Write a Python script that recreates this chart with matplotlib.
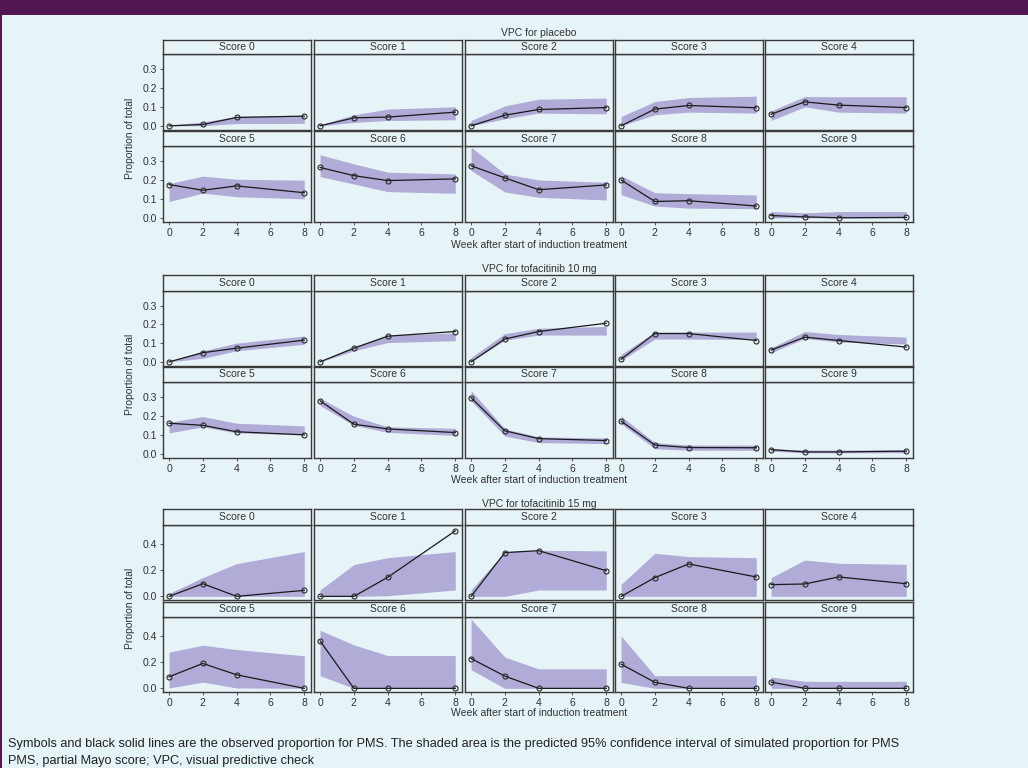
import matplotlib

matplotlib.use("Agg")
import matplotlib.pyplot as plt
from matplotlib.patches import Rectangle

plt.rcParams["font.family"] = ["Liberation Sans", "DejaVu Sans"]

# ---- data ----
weeks = [0, 2, 4, 8]
scores = [f"Score {i}" for i in range(10)]
group_titles = ["VPC for placebo", "VPC for tofacitinib 10 mg", "VPC for tofacitinib 15 mg"]

placebo_obs = [
    [0.0, 0.007, 0.044, 0.051],
    [0.0, 0.042, 0.046, 0.072],
    [0.0, 0.056, 0.086, 0.096],
    [0.0, 0.088, 0.107, 0.095],
    [0.061, 0.126, 0.109, 0.096],
    [0.175, 0.145, 0.168, 0.132],
    [0.265, 0.222, 0.196, 0.205],
    [0.274, 0.210, 0.148, 0.173],
    [0.199, 0.086, 0.090, 0.062],
    [0.012, 0.005, 0.0, 0.002],
]
placebo_lo = [
    [0.0, 0.0, 0.012, 0.013],
    [0.0, 0.018, 0.028, 0.032],
    [0.0, 0.037, 0.067, 0.063],
    [0.0, 0.058, 0.072, 0.067],
    [0.028, 0.100, 0.072, 0.067],
    [0.086, 0.130, 0.111, 0.100],
    [0.217, 0.178, 0.138, 0.129],
    [0.249, 0.136, 0.108, 0.094],
    [0.122, 0.062, 0.051, 0.048],
    [0.0, 0.0, 0.0, 0.0],
]
placebo_hi = [
    [0.003, 0.020, 0.050, 0.055],
    [0.005, 0.058, 0.088, 0.100],
    [0.028, 0.105, 0.140, 0.146],
    [0.049, 0.128, 0.149, 0.156],
    [0.079, 0.154, 0.153, 0.153],
    [0.180, 0.219, 0.203, 0.198],
    [0.332, 0.284, 0.240, 0.231],
    [0.372, 0.231, 0.199, 0.187],
    [0.222, 0.132, 0.127, 0.120],
    [0.033, 0.026, 0.033, 0.033],
]

t10_obs = [
    [0.0, 0.049, 0.073, 0.116],
    [0.0, 0.073, 0.137, 0.162],
    [0.0, 0.122, 0.162, 0.206],
    [0.014, 0.151, 0.151, 0.114],
    [0.063, 0.132, 0.114, 0.079],
    [0.161, 0.150, 0.116, 0.100],
    [0.279, 0.156, 0.131, 0.112],
    [0.295, 0.121, 0.080, 0.070],
    [0.172, 0.046, 0.033, 0.032],
    [0.022, 0.010, 0.010, 0.014],
]
t10_lo = [
    [0.0, 0.019, 0.059, 0.094],
    [0.0, 0.059, 0.103, 0.113],
    [0.0, 0.116, 0.143, 0.143],
    [0.008, 0.122, 0.122, 0.119],
    [0.048, 0.125, 0.106, 0.095],
    [0.110, 0.142, 0.110, 0.100],
    [0.254, 0.150, 0.113, 0.097],
    [0.278, 0.094, 0.059, 0.054],
    [0.158, 0.027, 0.019, 0.019],
    [0.014, 0.005, 0.005, 0.006],
]
t10_hi = [
    [0.003, 0.059, 0.100, 0.138],
    [0.003, 0.081, 0.143, 0.154],
    [0.024, 0.151, 0.179, 0.189],
    [0.040, 0.159, 0.159, 0.159],
    [0.075, 0.162, 0.146, 0.132],
    [0.166, 0.196, 0.161, 0.147],
    [0.292, 0.198, 0.142, 0.134],
    [0.333, 0.131, 0.089, 0.083],
    [0.198, 0.059, 0.046, 0.046],
    [0.027, 0.020, 0.020, 0.022],
]

t15_obs = [
    [0.0, 0.097, 0.0, 0.046],
    [0.0, 0.0, 0.146, 0.503],
    [0.0, 0.336, 0.351, 0.197],
    [0.0, 0.144, 0.249, 0.149],
    [0.090, 0.095, 0.149, 0.097],
    [0.089, 0.191, 0.104, 0.0],
    [0.364, 0.0, 0.0, 0.0],
    [0.229, 0.094, 0.0, 0.0],
    [0.186, 0.046, 0.0, 0.0],
    [0.048, 0.0, 0.0, 0.0],
]
t15_lo = [
    [0.0, 0.0, 0.0, 0.0],
    [0.0, 0.0, 0.005, 0.049],
    [0.0, 0.0, 0.049, 0.049],
    [0.0, 0.0, 0.0, 0.0],
    [0.0, 0.0, 0.0, 0.0],
    [0.003, 0.048, 0.003, 0.0],
    [0.097, 0.0, 0.0, 0.0],
    [0.143, 0.0, 0.0, 0.0],
    [0.046, 0.0, 0.0, 0.0],
    [0.0, 0.0, 0.0, 0.0],
]
t15_hi = [
    [0.023, 0.144, 0.251, 0.344],
    [0.049, 0.244, 0.297, 0.344],
    [0.049, 0.344, 0.354, 0.349],
    [0.092, 0.331, 0.305, 0.297],
    [0.144, 0.279, 0.254, 0.246],
    [0.278, 0.331, 0.298, 0.250],
    [0.446, 0.334, 0.252, 0.252],
    [0.532, 0.240, 0.150, 0.150],
    [0.403, 0.097, 0.097, 0.097],
    [0.087, 0.054, 0.054, 0.054],
]

groups = [
    (placebo_obs, placebo_lo, placebo_hi),
    (t10_obs, t10_lo, t10_hi),
    (t15_obs, t15_lo, t15_hi),
]
group_yticks = [[0.0, 0.1, 0.2, 0.3], [0.0, 0.1, 0.2, 0.3], [0.0, 0.2, 0.4]]
group_ylim = [(-0.022, 0.378), (-0.022, 0.378), (-0.028, 0.548)]

caption = [
    "Symbols and black solid lines are the observed proportion for PMS. The shaded area is the predicted 95% confidence interval of simulated proportion for PMS",
    "PMS, partial Mayo score; VPC, visual predictive check",
]

# ---- layout (pixels) ----
W, H = 1028, 768
BG = "#e6f3f7"
PURPLE = "#521752"
BAND = "#b0abd7"
FRAME = "#3a3a3a"
TXT = "#333333"

col_left = [163, 314, 465, 615, 765]
col_w = 148
# (strip top, panel top, panel bottom) for each row of each group
rows_px = [
    [(40, 54, 130), (131, 146, 222)],
    [(275, 291, 366), (367, 382, 458)],
    [(509, 525, 600), (602, 617, 692)],
]
title_y = [33, 269, 504]
xlabel_y = [245, 480, 713]


def fx(px):
    return px / W


def fy(py):
    return 1 - py / H


fig = plt.figure(figsize=(W / 100, H / 100), dpi=100, facecolor=BG)

# header bar and left border
fig.patches.append(Rectangle((0, fy(15)), 1, 15 / H, transform=fig.transFigure,
                             facecolor=PURPLE, edgecolor="none", zorder=0))
fig.patches.append(Rectangle((0, 0), 2 / W, 1, transform=fig.transFigure,
                             facecolor=PURPLE, edgecolor="none", zorder=0))

for g, (obs, lo, hi) in enumerate(groups):
    for r, (s_top, p_top, p_bot) in enumerate(rows_px[g]):
        for c in range(5):
            k = r * 5 + c
            left = fx(col_left[c])
            ax = fig.add_axes([left, fy(p_bot), col_w / W, (p_bot - p_top) / H])
            ax.set_facecolor(BG)
            ax.fill_between(weeks, lo[k], hi[k], color=BAND, linewidth=0, zorder=1)
            ax.plot(weeks, obs[k], color="#1a1a1a", linewidth=0.9, zorder=2,
                    marker="o", markersize=3.6, markerfacecolor="none",
                    markeredgecolor="#2a2a2a", markeredgewidth=0.8)
            ax.set_xlim(-0.36, 8.4)
            ax.set_ylim(*group_ylim[g])
            for sp in ax.spines.values():
                sp.set_color(FRAME)
                sp.set_linewidth(1.0)
            ax.tick_params(colors="#555555", labelcolor=TXT, labelsize=7.5,
                           length=2.5, width=0.7, pad=1.5)
            ax.set_xticks([0, 2, 4, 6, 8])
            ax.set_yticks(group_yticks[g])
            ax.yaxis.set_major_formatter(plt.FormatStrFormatter("%.1f"))
            if c != 0:
                ax.tick_params(axis="y", left=False, labelleft=False)
            if r != 1:
                ax.tick_params(axis="x", bottom=False, labelbottom=False)

            # strip above the panel
            sax = fig.add_axes([left, fy(p_top), col_w / W, (p_top - s_top) / H])
            sax.set_facecolor(BG)
            sax.set_xticks([])
            sax.set_yticks([])
            for sp in sax.spines.values():
                sp.set_color(FRAME)
                sp.set_linewidth(1.0)
            sax.text(0.5, 0.5, scores[k], ha="center", va="center",
                     fontsize=7.5, color=TXT, transform=sax.transAxes)

    mid_x = fx(col_left[2] + col_w / 2)
    fig.text(mid_x, fy(title_y[g]), group_titles[g], ha="center", va="center",
             fontsize=7.5, color=TXT)
    fig.text(mid_x, fy(xlabel_y[g]), "Week after start of induction treatment",
             ha="center", va="center", fontsize=7.5, color=TXT)
    ymid = (rows_px[g][0][1] + rows_px[g][1][2]) / 2
    fig.text(fx(130), fy(ymid), "Proportion of total", rotation=90,
             ha="center", va="center", fontsize=7.5, color=TXT)

fig.text(fx(8), fy(744), caption[0], ha="left", va="center", fontsize=9.2, color="#222222")
fig.text(fx(8), fy(761), caption[1], ha="left", va="center", fontsize=9.2, color="#222222")

fig.savefig("out.png", dpi=100, facecolor=BG)
